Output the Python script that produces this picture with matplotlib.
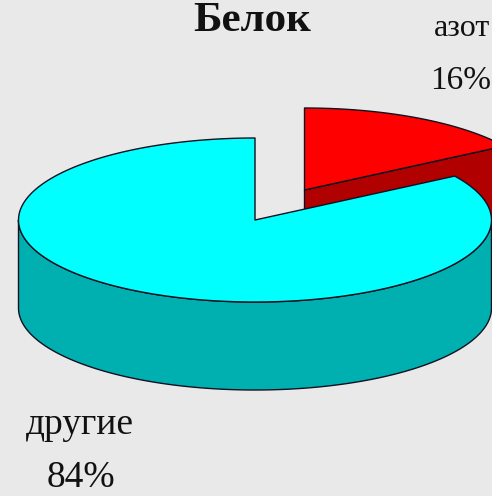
import numpy as np
import matplotlib
matplotlib.use("Agg")
import matplotlib.pyplot as plt
from matplotlib.patches import Polygon

title = "Белок"
categories = ["азот", "другие"]
shares = [16, 84]
labels = ["16%", "84%"]

BG = "#E9E9E9"
plt.rcParams['font.family'] = ['Liberation Serif', 'DejaVu Serif']

fig = plt.figure(figsize=(4.92, 4.96), dpi=100, facecolor=BG)
ax = fig.add_axes([0, 0, 1, 1])
ax.set_xlim(0, 492)
ax.set_ylim(496, 0)
ax.axis("off")

RX, RY, DEPTH = 236.5, 82, 88
EDGE = dict(edgecolor="#101020", linewidth=1.0, joinstyle="round")


def pt(cx, cy, deg):
    a = np.deg2rad(deg)
    return cx + RX * np.cos(a), cy - RY * np.sin(a)


def arc(cx, cy, a0, a1, n=200):
    a = np.deg2rad(np.linspace(a0, a1, n))
    return np.column_stack([cx + RX * np.cos(a), cy - RY * np.sin(a)])


def poly(xy, color):
    ax.add_patch(Polygon(xy, closed=True, facecolor=color, **EDGE))


# angles run clockwise from 12 o'clock, in chart degrees
end_red = 90 - 360 * shares[0] / sum(shares)

# azote slice, pulled out
cx, cy = 304.5, 190
x1, y1 = pt(cx, cy, end_red)
poly([(cx, cy), (x1, y1), (x1, y1 + DEPTH), (cx, cy + DEPTH)], "#B00000")
poly(np.vstack([[(cx, cy)], arc(cx, cy, 90, end_red)]), "#FF0000")

# other slice
cx, cy = 255, 220
front = arc(cx, cy, 180, 360)
side = np.vstack([front, front[::-1] + [0, DEPTH]])
poly(side, "#00B0B0")
poly(np.vstack([[(cx, cy)], arc(cx, cy, end_red, -270, 400)]), "#00FFFF")

tk = dict(color="#111111", va="center")
ax.text(252, 21, title, fontsize=31, fontweight="bold", ha="center", **tk)
ax.text(490, 28, categories[0], fontsize=23, ha="right", **tk)
ax.text(491, 81, labels[0], fontsize=24, ha="right", **tk)
ax.text(80, 425, categories[1], fontsize=27, ha="center", **tk)
ax.text(81, 478, labels[1], fontsize=27, ha="center", **tk)

fig.savefig("out.png", dpi=100, facecolor=BG)
